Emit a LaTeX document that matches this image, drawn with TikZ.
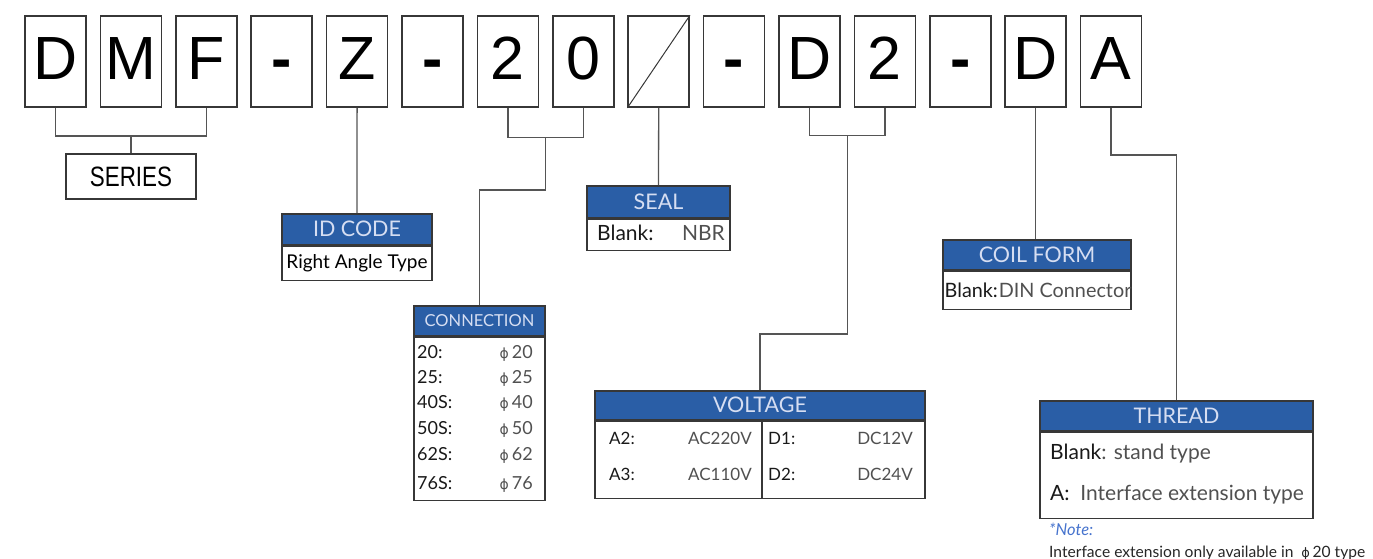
\documentclass[tikz,border=0pt]{standalone}
\usepackage{fontspec}
\usetikzlibrary{calc}
\setmainfont{Lato}
\newfontfamily\arialf{Liberation Sans}
\newfontfamily\dejavu{DejaVu Sans}
\definecolor{hdrblue}{RGB}{42,94,166}
\definecolor{hdrtext}{RGB}{214,222,242}
\definecolor{valgrey}{RGB}{80,80,80}
\definecolor{linegrey}{RGB}{85,85,85}
\definecolor{boxline}{RGB}{55,55,55}
\definecolor{noteblue}{RGB}{70,115,205}
\begin{document}
\begin{tikzpicture}[x=1pt,y=-1pt,
  letterbox/.style={draw=boxline, line width=1.6pt, minimum width=61pt, minimum height=91pt,
    inner sep=0pt, text height=44pt, text depth=9pt,
    font=\arialf\fontsize{61}{61}\selectfont},
  conn/.style={draw=linegrey, line width=1.3pt},
  hdr/.style={draw=boxline, line width=1.5pt, fill=hdrblue, text=hdrtext, anchor=north,
    inner sep=0pt, font=\fontsize{21.5}{21.5}\selectfont},
  bodybox/.style={draw=boxline, line width=1.5pt, anchor=north, inner sep=0pt},
  lab/.style={anchor=base west, inner sep=0pt, text=black!90},
  val/.style={anchor=base east, inner sep=0pt, text=valgrey},
]
\useasboundingbox (0,0) rectangle (1373,558);

% letter boxes
\foreach \i/\t in {0/D,1/M,2/F,3/{\bfseries-},4/Z,5/{\bfseries-},6/2,7/0,8/{},9/{\bfseries-},10/D,11/2,12/{\bfseries-},13/D,14/A}{
  \node[letterbox] (b\i) at ({55.5+75.4*\i},61.5) {\t};
}
\draw[draw=boxline, line width=1pt] (b8.south west) -- (b8.north east);

% SERIES
\node[draw=boxline, line width=1.5pt, minimum width=130pt, minimum height=45pt, inner sep=0pt,
  font=\arialf\fontsize{28}{28}\selectfont] (series) at (131,176.5) {\scalebox{0.8}[1]{SERIES}};
\coordinate (sj) at (131,136);
\draw[conn] (b0.south) |- (sj) -| (b2.south);
\draw[conn] (sj) -- (series.north);

% ID CODE
\node[hdr, minimum width=150pt, minimum height=31pt] (idh) at (357,213) {ID CODE};
\node[bodybox, minimum width=150pt, minimum height=34pt, font=\fontsize{19}{19}\selectfont] (idb) at (idh.south) {Right Angle Type};
\draw[conn] (b4.south) -- (idh.north);

% CONNECTION
\node[hdr, minimum width=131pt, minimum height=30pt, font=\fontsize{16.5}{16.5}\selectfont] (conh) at (479.5,305) {CONNECTION};
\node[bodybox, minimum width=131pt, minimum height=163pt] (conb) at (conh.south) {};
\coordinate (cj) at ($(b6.south)!0.5!(b7.south)+(0,30)$);
\coordinate (cj2) at (cj |- 0,190);
\draw[conn] (b6.south) |- (cj) -| (b7.south);
\draw[conn] (cj) -- (cj2) -| (conh.north);
\begin{scope}[font=\fontsize{18}{18}\selectfont]
\foreach \l/\v/\y in {20:/20/358, 25:/25/383, 40S:/40/408, 50S:/50/434, 62S:/62/460, 76S:/76/489}{
  \node[lab] (cl\v) at (417,\y) {\l};
  \node[val] (cv\v) at (533,\y) {{\dejavu\fontsize{14}{14}\selectfont ϕ}\,\v};
}
\end{scope}

% SEAL
\node[hdr, minimum width=143pt, minimum height=32pt] (sealh) at (658.5,185) {SEAL};
\node[bodybox, minimum width=143pt, minimum height=31pt] (sealb) at (sealh.south) {};
\node[lab, font=\fontsize{21}{21}\selectfont] (sl) at (597,240) {Blank:};
\node[val, font=\fontsize{21}{21}\selectfont] (sv) at (725,240) {NBR};
\draw[conn] (b8.south) -- (sealh.north);

% VOLTAGE
\node[hdr, minimum width=330pt, minimum height=29pt] (volh) at (760,390) {VOLTAGE};
\node[bodybox, minimum width=330pt, minimum height=77pt] (volb) at (volh.south) {};
\draw[draw=boxline, line width=1.5pt] (volb.north -| 762,0) coordinate (vd1) -- (volb.south -| 762,0) coordinate (vd2);
\coordinate (vj) at ($(b10.south)!0.5!(b11.south)+(0,28)$);
\coordinate (vj2) at (vj |- 0,334);
\draw[conn] (b10.south) |- (vj) -| (b11.south);
\draw[conn] (vj) -- (vj2) -| (volh.north);
\begin{scope}[font=\fontsize{17}{17}\selectfont]
\node[lab] (va2) at (609,444) {A2:};
\node[val] (va2v) at (752,444) {AC220V};
\node[lab] (va3) at (609,480) {A3:};
\node[val] (va3v) at (752,480) {AC110V};
\node[lab] (vd1l) at (768,444) {D1:};
\node[val] (vd1v) at (913,444) {DC12V};
\node[lab] (vd2l) at (768,480) {D2:};
\node[val] (vd2v) at (913,480) {DC24V};
\end{scope}

% COIL FORM
\node[hdr, minimum width=188pt, minimum height=30pt] (coilh) at (1037,239) {COIL FORM};
\node[bodybox, minimum width=188pt, minimum height=38pt] (coilb) at (coilh.south) {};
\node[lab, font=\fontsize{19.8}{19.8}\selectfont] (coill) at (944.5,297) {Blank:\kern1pt{\color{valgrey}DIN Connector}};
\draw[conn] (b13.south) -- (b13.south |- coilh.north);

% THREAD
\node[hdr, minimum width=273pt, minimum height=30pt] (thrh) at (1176.5,400) {THREAD};
\node[bodybox, minimum width=273pt, minimum height=86pt] (thrb) at (thrh.south) {};
\node[lab, font=\fontsize{21}{21}\selectfont] (t1) at (1050,459) {Blank{\color{valgrey}: stand type}};
\node[lab, font=\fontsize{21}{21}\selectfont] (t2) at (1050,500) {A:\ \ {\color{valgrey}Interface extension type}};
\coordinate (tj) at (b14.south |- 0,155);
\draw[conn] (b14.south) -- (tj) -| (thrh.north);

% note
\node[lab, font=\itshape\fontsize{16.5}{16.5}\selectfont, text=noteblue] (n1) at (1049,535) {*Note:};
\node[lab, font=\fontsize{15.6}{15.6}\selectfont, text=black!85] (n2) at (1049,557) {Interface extension only available in \ {\dejavu\fontsize{13}{13}\selectfont ϕ}\,20 type};
\end{tikzpicture}
\end{document}
